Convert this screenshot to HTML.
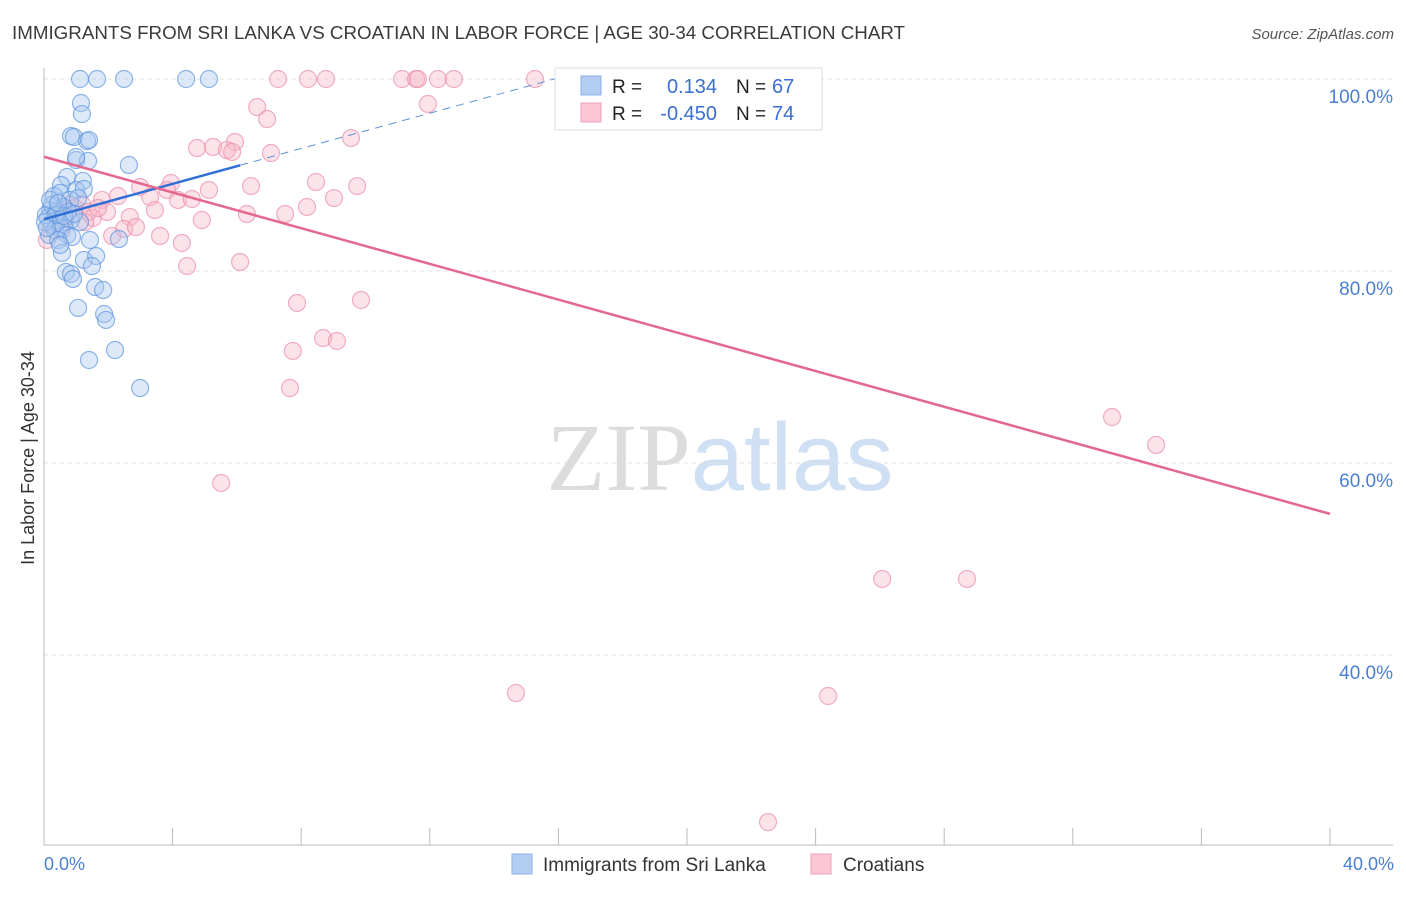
<!DOCTYPE html>
<html><head><meta charset="utf-8"><style>
body{margin:0;background:#fff;font-family:"Liberation Sans",sans-serif}
svg text{font-family:"Liberation Sans",sans-serif}
</style></head><body>
<svg id="chart" width="1406" height="892" xmlns="http://www.w3.org/2000/svg">
<text x="12" y="39" font-size="18" fill="#3a3a3a" textLength="893" lengthAdjust="spacingAndGlyphs">IMMIGRANTS FROM SRI LANKA VS CROATIAN IN LABOR FORCE | AGE 30-34 CORRELATION CHART</text>
<text x="1394" y="39" font-size="15" fill="#555" text-anchor="end" font-style="italic">Source: ZipAtlas.com</text>
<text x="720" y="490" font-size="96" text-anchor="middle"><tspan fill="#dcdcdc" font-family="Liberation Serif">ZIP</tspan><tspan fill="#cfe0f4">atlas</tspan></text>
<g id="grid"></g>
<g id="axes"></g>
<g id="pts"></g>
<g id="trend"></g>
<text transform="translate(34,458) rotate(-90)" font-size="18" fill="#333" text-anchor="middle">In Labor Force | Age 30-34</text>
<text x="44" y="870" font-size="18" fill="#4a7fd4">0.0%</text>
<text x="1394" y="870" font-size="18" fill="#4a7fd4" text-anchor="end">40.0%</text>
<g>
<rect x="555" y="68" width="267" height="62" fill="#fff" stroke="#ddd"/>
<rect x="581" y="76" width="20" height="19" fill="#b3cdf2" stroke="#8ab0e6"/>
<rect x="581" y="103" width="20" height="19" fill="#fcc6d4" stroke="#f0a0b8"/>
<text x="612" y="93" font-size="19" fill="#222">R =</text>
<text x="717" y="93" font-size="20" fill="#3a6fd0" text-anchor="end">0.134</text>
<text x="736" y="93" font-size="19" fill="#222">N =</text>
<text x="772" y="93" font-size="20" fill="#3a6fd0">67</text>
<text x="612" y="120" font-size="19" fill="#222">R =</text>
<text x="717" y="120" font-size="20" fill="#3a6fd0" text-anchor="end">-0.450</text>
<text x="736" y="120" font-size="19" fill="#222">N =</text>
<text x="772" y="120" font-size="20" fill="#3a6fd0">74</text>
</g>
<g>
<rect x="512" y="854" width="20" height="20" fill="#b3cdf2" stroke="#8ab0e6"/>
<text x="543" y="871" font-size="19" fill="#333">Immigrants from Sri Lanka</text>
<rect x="811" y="854" width="20" height="20" fill="#fcc6d4" stroke="#f0a0b8"/>
<text x="843" y="871" font-size="19" fill="#333">Croatians</text>
</g>
</svg>
<script>
const yTicks=[100,80,60,40];
const yTickLabels=["100.0%","80.0%","60.0%","40.0%"];
const xTicks=[4,8,12,16,20,24,28,32,36,40];
const blueX=[1.12,1.65,2.49,4.42,5.13,1.15,1.18,0.84,0.93,1.34,1.40,1.0,1.37,2.64,1.0,0.72,1.21,0.53,1.0,1.24,0.31,0.5,0.81,0.59,0.19,0.37,0.12,0.4,0.65,0.84,1.12,0.25,0.34,0.53,0.16,0.72,0.87,0.44,1.43,2.33,0.56,1.24,1.62,1.49,0.68,0.84,0.9,1.59,1.84,1.06,1.87,1.93,2.21,1.4,2.99,0.06,0.25,0.75,0.5,1.06,0.37,0.62,0.19,0.03,0.44,0.09,0.93];
const blueY=[100,100,100,100,100,97.5,96.35,94.06,93.96,93.54,93.65,91.56,91.46,91.04,91.88,89.8,89.38,88.96,88.44,88.54,87.81,88.13,87.4,86.67,86.35,86.15,85.52,85.31,85.1,85.31,85.1,84.79,84.27,84.48,83.75,83.75,83.54,83.23,83.23,83.33,81.88,81.15,81.56,80.52,79.9,79.69,79.17,78.33,78.02,76.15,75.52,74.9,71.77,70.73,67.81,85.83,86.88,86.15,82.71,87.6,85.83,85.73,87.4,85.1,87.08,84.48,85.94];
const pinkX=[7.28,8.21,8.77,11.14,11.57,11.63,12.25,12.75,15.27,23.2,6.63,6.94,11.94,9.55,5.94,4.76,5.26,5.69,5.85,7.06,2.99,3.95,3.83,6.44,5.13,8.46,9.74,3.3,4.17,4.6,9.02,1.8,2.3,1.18,1.96,2.67,3.45,4.91,6.31,7.5,8.18,1.52,2.49,2.86,3.61,2.12,4.29,6.1,4.45,7.87,9.86,7.74,8.68,9.11,7.65,5.51,33.22,34.59,26.07,28.71,14.68,24.39,22.52,0.5,0.81,0.34,0.65,1.37,0.96,0.19,0.09,0.56,1.68,1.28];
const pinkY=[100,100,100,100,100,100,100,100,100,100,97.08,95.83,97.4,93.85,93.44,92.81,92.92,92.6,92.4,92.29,88.75,89.17,88.44,88.85,88.44,89.27,88.85,87.71,87.4,87.5,87.6,87.4,87.81,86.98,86.15,85.63,86.35,85.31,85.94,85.94,86.67,85.52,84.38,84.58,83.65,83.65,82.92,80.94,80.52,76.67,76.98,71.67,73.02,72.71,67.81,57.92,64.79,61.88,47.92,47.92,36.04,35.73,22.6,86.35,86.88,85.83,85.52,86.15,86.56,84.79,83.23,84.27,86.56,85.1];
const blueTrend=[85.4,0.92];
const pinkTrend=[91.9,-0.93];
const NS="http://www.w3.org/2000/svg";
const sx=v=>44+v*32.15, sy=v=>79+(100-v)*9.6;
function mk(t,a,p){const e=document.createElementNS(NS,t);for(const k in a)e.setAttribute(k,a[k]);p.appendChild(e);return e;}
const grid=document.getElementById('grid'),axes=document.getElementById('axes'),pts=document.getElementById('pts'),tr=document.getElementById('trend');
yTicks.forEach((v,i)=>{
 const l=mk('line',{x1:44,x2:1393,y1:sy(v),y2:sy(v),stroke:'#e2e2e2','stroke-dasharray':'4,4'},grid);
 
 
 const t=mk('text',{x:1393,y:sy(v)+24,'font-size':19,fill:'#4a7fd4','text-anchor':'end'},grid);
 t.textContent=yTickLabels[i];
 
 
});
const ya=mk('line',{x1:44,x2:44,y1:68,y2:845,stroke:'#bbb'},axes);


const xa=mk('line',{x1:44,x2:1393,y1:845,y2:845,stroke:'#bbb'},axes);


xTicks.forEach(v=>{const t=mk('line',{x1:sx(v),x2:sx(v),y1:828,y2:845,stroke:'#bbb'},axes);
 
 });
function dots(X,Y,f,s,n){X.forEach((x,i)=>{const c=mk('circle',{cx:sx(x),cy:sy(Y[i]),r:8.5,fill:f,'fill-opacity':0.4,stroke:s,'stroke-opacity':0.7,'stroke-width':1.2},pts);
 
 });}
dots(pinkX,pinkY,'#f7b6c9','#ea8fab','croatian-point');
dots(blueX,blueY,'#a9c7f0','#5f95de','sri-lanka-point');
const bx2=6.1,bx3=16.1;
let l=mk('line',{x1:sx(0),y1:sy(blueTrend[0]),x2:sx(bx2),y2:sy(blueTrend[0]+blueTrend[1]*bx2),stroke:'#2f6fd6','stroke-width':2.5},tr);


l=mk('line',{x1:sx(bx2),y1:sy(blueTrend[0]+blueTrend[1]*bx2),x2:sx(bx3),y2:sy(blueTrend[0]+blueTrend[1]*bx3),stroke:'#5f8fd8','stroke-width':1,'stroke-dasharray':'8,6'},tr);


l=mk('line',{x1:sx(0),y1:sy(pinkTrend[0]),x2:sx(40),y2:sy(pinkTrend[0]+pinkTrend[1]*40),stroke:'#e4678f','stroke-width':2.5},tr);


</script>
</body></html>
